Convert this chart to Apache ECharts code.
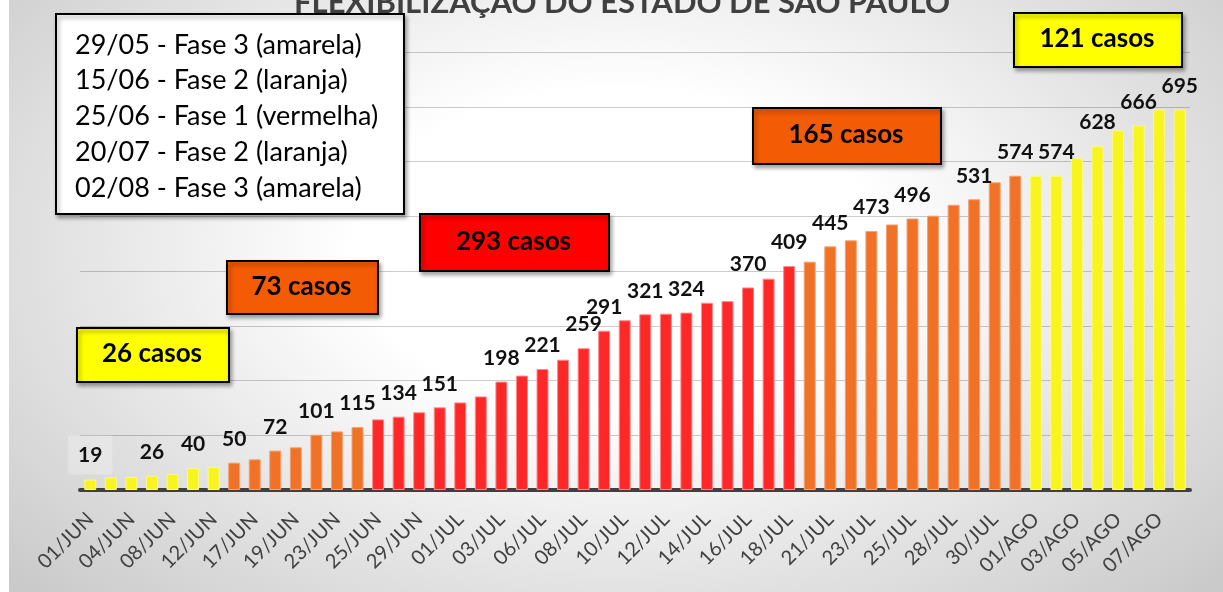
<!DOCTYPE html>
<html><head><meta charset="utf-8">
<script src="https://cdn.jsdelivr.net/npm/echarts@6/dist/echarts.min.js"></script>
<style>
html,body{margin:0;padding:0;background:#fff;}
#bg{position:absolute;left:9px;top:0;width:1214px;height:592px;background:radial-gradient(ellipse 72% 90% at 50% 42%, #ffffff 0%, #ffffff 30%, #c4c4c4 100%);}
#chart{position:absolute;left:0;top:0;width:1223px;height:592px;}
</style></head>
<body><div id="bg"></div><div id="chart"></div>
<script>
// ---------- DATA ----------
const categories = [
  '01/JUN','02/JUN','04/JUN','05/JUN','08/JUN','10/JUN','12/JUN','15/JUN','17/JUN','18/JUN',
  '19/JUN','22/JUN','23/JUN','24/JUN','25/JUN','26/JUN','29/JUN','30/JUN','01/JUL','02/JUL',
  '03/JUL','04/JUL','06/JUL','07/JUL','08/JUL','09/JUL','10/JUL','11/JUL','12/JUL','13/JUL',
  '14/JUL','15/JUL','16/JUL','17/JUL','18/JUL','20/JUL','21/JUL','22/JUL','23/JUL','24/JUL',
  '25/JUL','27/JUL','28/JUL','29/JUL','30/JUL','31/JUL','01/AGO','02/AGO','03/AGO','04/AGO',
  '05/AGO','06/AGO','07/AGO','08/AGO'
];
const values = [
  19, 23, 24, 26, 29, 40, 42, 50, 56, 72,
  78, 101, 107, 115, 129, 134, 142, 151, 160, 171,
  198, 209, 221, 238, 259, 291, 310, 321, 322, 324,
  342, 345, 370, 386, 409, 417, 445, 456, 473, 485,
  496, 501, 521, 531, 562, 574, 574, 574, 606, 628,
  657, 666, 695, 695
];
const labeledDays = ['01/JUN','05/JUN','10/JUN','15/JUN','18/JUN','22/JUN','24/JUN','26/JUN','30/JUN',
  '03/JUL','06/JUL','08/JUL','09/JUL','11/JUL','13/JUL','16/JUL','18/JUL','21/JUL','23/JUL','25/JUL',
  '29/JUL','31/JUL','02/AGO','04/AGO','06/AGO','08/AGO'];
const phaseStartDays = ['01/JUN','15/JUN','25/JUN','20/JUL','01/AGO'];
const phaseKinds = ['amarela','laranja','vermelha','laranja','amarela'];
const phaseTotals = ['26 casos','73 casos','293 casos','165 casos','121 casos'];
const legendLines = [
  '29/05 - Fase 3 (amarela)',
  '15/06 - Fase 2 (laranja)',
  '25/06 - Fase 1 (vermelha)',
  '20/07 - Fase 2 (laranja)',
  '02/08 - Fase 3 (amarela)'
];
const titleText = 'FLEXIBILIZAÇÃO DO ESTADO DE SÃO PAULO';
const yMin = 0, yMax = 800, yStep = 100;

// ---------- STYLE ----------
const barStyle = {
  amarela: {color:'#f7f41f', borderColor:'#faf88c'},
  laranja: {color:'#f07227', borderColor:'#f6a273'},
  vermelha:{color:'#ff2828', borderColor:'#ff8c8c'}
};
const boxFill = {amarela:'#ffff00', laranja:'#f45b05', vermelha:'#ff0000'};
const boxRects = [
  {x:76, y:327, w:152, h:54},
  {x:226, y:260, w:151, h:53},
  {x:419, y:213, w:189, h:57},
  {x:752, y:107, w:188, h:56},
  {x:1013, y:12, w:168, h:54}
];
const FONT = 'Lato';

function phaseOf(i){
  let k = 0;
  phaseStartDays.forEach((d,j)=>{ if (categories.indexOf(d) <= i) k = j; });
  return phaseKinds[k];
}

const seriesData = values.map((v,i)=>{
  const ph = phaseOf(i);
  const item = {
    value: v,
    itemStyle: {color: barStyle[ph].color, borderColor: barStyle[ph].borderColor, borderWidth: 1},
    label: {show: labeledDays.indexOf(categories[i]) >= 0}
  };
  if (i === 0) {
    item.label.backgroundColor = 'rgba(255,255,255,0.25)';
    item.label.padding = [9, 10];
    item.label.distance = 5;
  }
  return item;
});

const graphics = [];
graphics.push({type:'text', x: 622, y: 3, z: 100,
  style:{text: titleText, fill:'#404040', font:'bold 31px ' + FONT, align:'center', verticalAlign:'middle'}});
// legend box
graphics.push({type:'rect', left:55, top:13, z:100,
  shape:{width:348, height:200},
  style:{fill:'#ffffff', stroke:'#000', lineWidth:2, shadowColor:'rgba(0,0,0,0.35)', shadowBlur:4, shadowOffsetX:2, shadowOffsetY:3}});
legendLines.forEach((t,i)=>{
  graphics.push({type:'text', x:75, y:45 + i*35.7, z:101,
    style:{text:t, fill:'#000', font:'27px ' + FONT, align:'left', verticalAlign:'middle'}});
});
boxRects.forEach((b,i)=>{
  graphics.push({type:'rect', left:b.x, top:b.y, z:100,
    shape:{width:b.w, height:b.h},
    style:{fill: boxFill[phaseKinds[i]], stroke:'#000', lineWidth:2, shadowColor:'rgba(0,0,0,0.35)', shadowBlur:4, shadowOffsetX:2, shadowOffsetY:3}});
  graphics.push({type:'text', x:b.x + b.w/2, y:b.y + b.h/2, z:101,
    style:{text: phaseTotals[i], fill:'#000', font:'bold 26px ' + FONT, align:'center', verticalAlign:'middle'}});
});

const chart = echarts.init(document.getElementById('chart'), null, {renderer:'canvas'});
chart.setOption({
  animation: false,
  backgroundColor: 'transparent',
  grid: {left: 80, right: 33, top: 52, bottom: 102, containLabel: false},
  xAxis: {
    type:'category', data: categories, boundaryGap: true,
    axisLine: {show:true, lineStyle:{color:'#404040', width:4}},
    axisTick: {show:false},
    axisLabel: {interval:1, rotate:45, fontSize:20, fontFamily:FONT, color:'#404040', margin:26}
  },
  yAxis: {
    type:'value', min:yMin, max:yMax, interval:yStep,
    axisLine:{show:false}, axisTick:{show:false}, axisLabel:{show:false},
    splitLine:{show:true, lineStyle:{color:'rgba(0,0,0,0.2)', width:1}}
  },
  series: [{
    type:'bar', data: seriesData, barWidth: 12,
    label: {position:'top', distance:13, fontSize:21, fontWeight:'bold', fontFamily:FONT, color:'#111'}
  }],
  graphic: graphics
});
</script>
</body></html>
